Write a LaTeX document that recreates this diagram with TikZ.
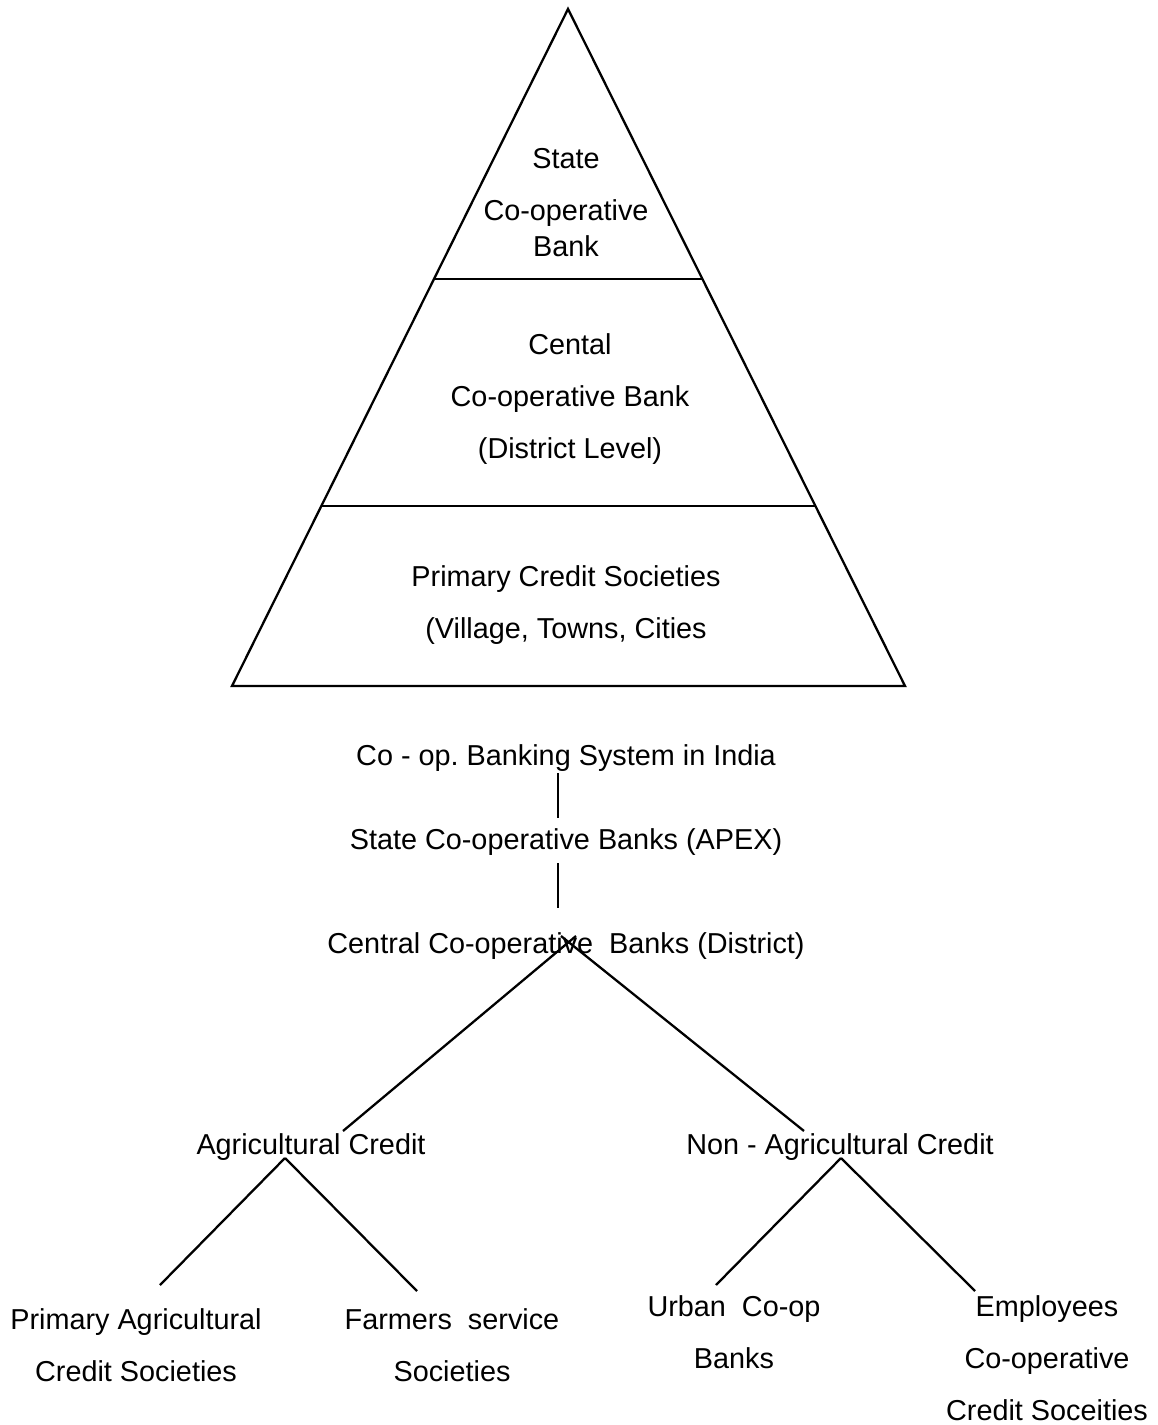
\documentclass[tikz,border=0pt]{standalone}
\usepackage{fontspec}
\setmainfont{Liberation Sans}
\usepackage{tikz}
\usetikzlibrary{positioning}
\frenchspacing

\begin{document}
\begin{tikzpicture}[x=0.02cm,y=-0.02cm,
  lbl/.style={font=\fontsize{16.4pt}{1.04cm}\selectfont,align=center,inner sep=0pt,anchor=base},
  ln/.style={line width=1.3pt}]
\useasboundingbox (0,0) rectangle (1158,1425);

% pyramid
\coordinate (top) at (568,9);
\coordinate (bl) at (232,686);
\coordinate (br) at (905,686);
\draw[ln] (top) -- (bl) -- (br) -- cycle;
\draw[ln] (434,279) -- (702,279);
\draw[ln] (321,506) -- (815,506);

\node[lbl] (scb) at (566,257) {State\\Co-operative\\[-0.3cm]Bank};
\node[lbl] (ccb) at (570,458) {Cental\\Co-operative Bank\\(District Level)};
\node[lbl] (pcs) at (566,638) {Primary Credit Societies\\(Village, Towns, Cities};

% tree
\node[lbl] (sys) at (566,765) {Co - op. Banking System in India};
\node[lbl] (apex) at (566,849) {State Co-operative Banks (APEX)};
\node[lbl] (cent) at (566,953) {Central Co-operative\ \ Banks (District)};
\node[lbl] (agri) at (311,1154) {Agricultural Credit};
\node[lbl] (nonagri) at (840,1154) {Non - Agricultural Credit};
\node[lbl] (pacs) at (136,1381) {Primary Agricultural\\Credit Societies};
\node[lbl] (fss) at (452,1381) {Farmers\ \ service\\Societies};
\node[lbl] (ucb) at (734,1368) {Urban\ \ Co-op\\Banks};
\node[lbl] (ecs) at (1047,1420) {Employees\\Co-operative\\Credit Soceities};

\draw[ln] ([shift={(-8,8)}]sys.base) -- ([shift={(-8,-31)}]apex.base);
\draw[ln] ([shift={(-8,14)}]apex.base) -- ([shift={(-8,-45)}]cent.base);
\draw[ln] ([shift={(10,-17)}]cent.base) -- ([shift={(32,-23)}]agri.base);
\draw[ln] ([shift={(-5,-17)}]cent.base) -- ([shift={(-36,-23)}]nonagri.base);
\draw[ln] ([shift={(-26,4)}]agri.base) -- ([shift={(24,-96)}]pacs.base);
\draw[ln] ([shift={(-26,4)}]agri.base) -- ([shift={(-35,-90)}]fss.base);
\draw[ln] ([shift={(1,4)}]nonagri.base) -- ([shift={(-18,-83)}]ucb.base);
\draw[ln] ([shift={(1,4)}]nonagri.base) -- ([shift={(-72,-129)}]ecs.base);
\end{tikzpicture}
\end{document}
